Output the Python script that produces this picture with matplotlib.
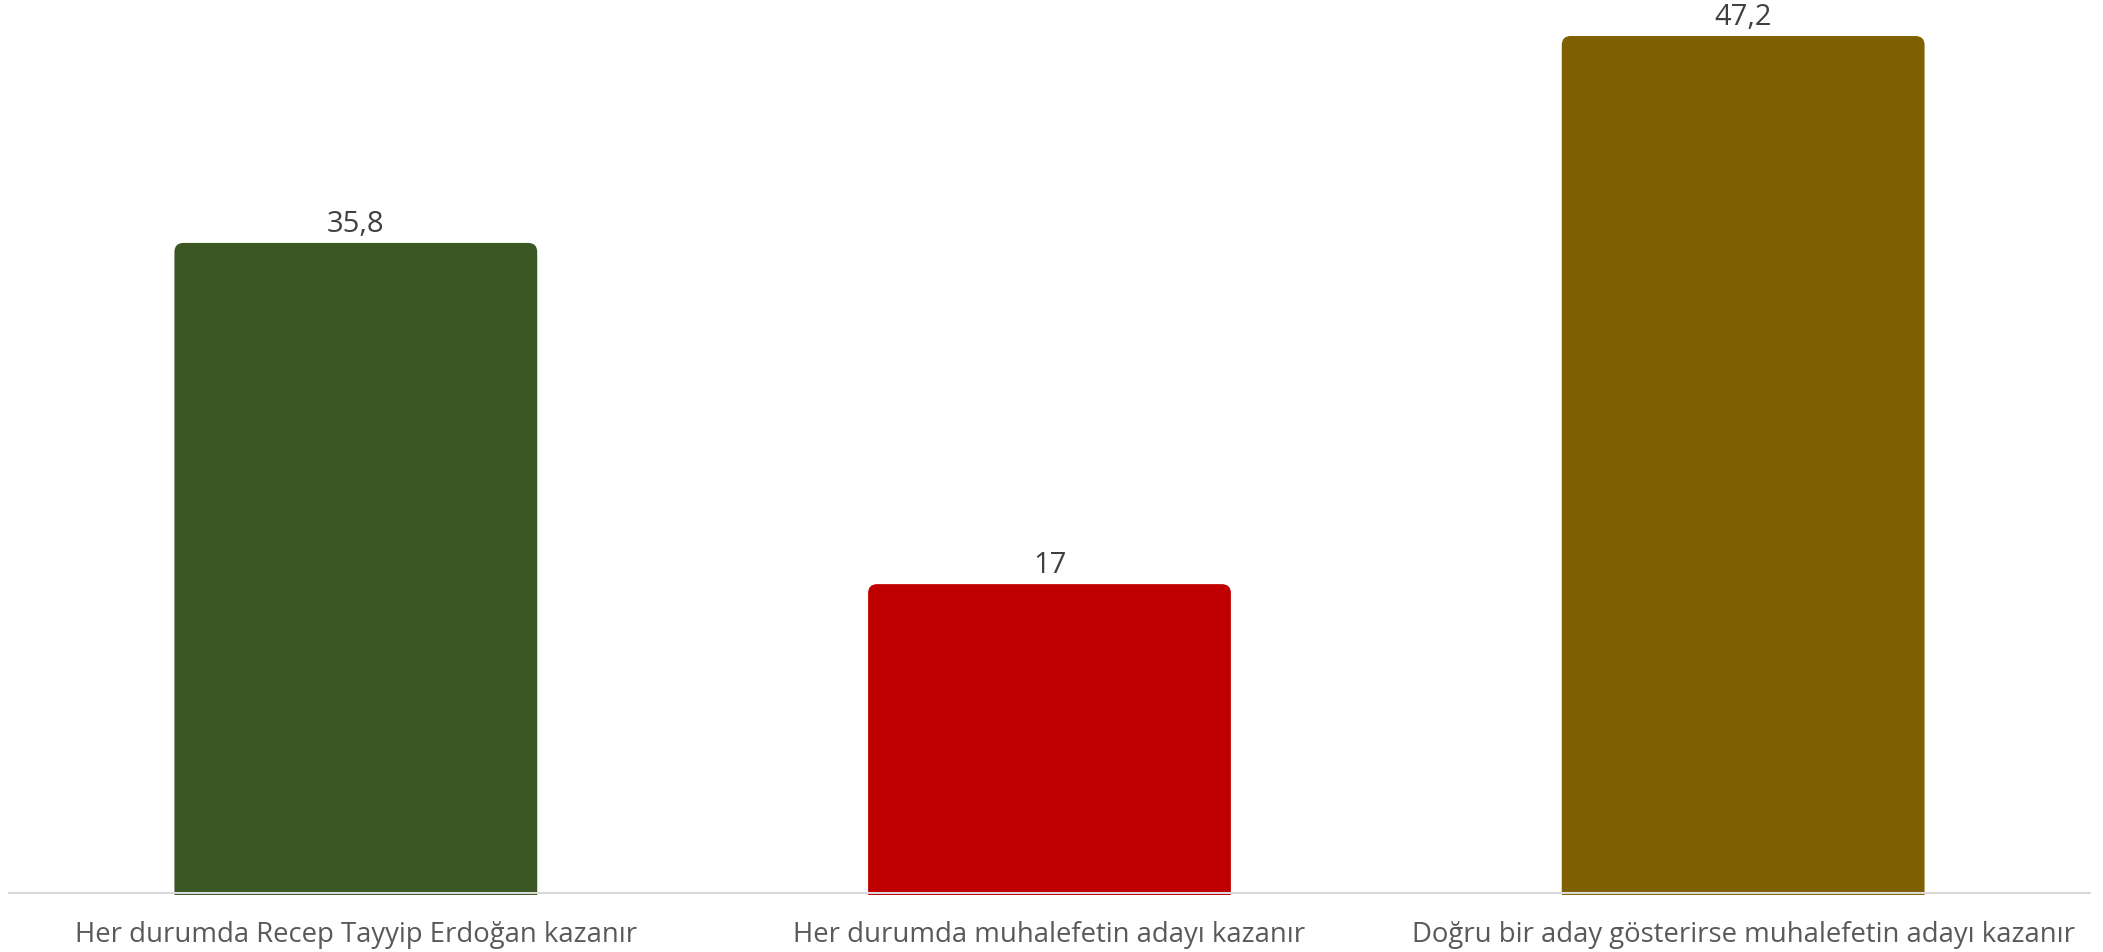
import matplotlib
matplotlib.use('Agg')
import matplotlib.pyplot as plt
from matplotlib.patches import FancyBboxPatch

categories = ['Her durumda Recep Tayyip Erdoğan kazanır',
              'Her durumda muhalefetin adayı kazanır',
              'Doğru bir aday gösterirse muhalefetin adayı kazanır']
values = [35.8, 17, 47.2]
value_labels = ['35,8', '17', '47,2']
colors = ['#3A5724', '#C00000', '#7F6000']

plt.rcParams['font.family'] = ['Open Sans', 'DejaVu Sans']

fig = plt.figure(figsize=(21.03, 9.53), dpi=100)
ax = fig.add_axes([9 / 2103, 57.5 / 953, 2081 / 2103, 895.5 / 953])

# set spine position first, it resets tick settings
for s in ['top', 'left', 'right']:
    ax.spines[s].set_visible(False)
ax.spines['bottom'].set_position(('data', 0))
ax.spines['bottom'].set_color('#D9D9D9')
ax.spines['bottom'].set_linewidth(1.5)
ax.spines['bottom'].set_zorder(3)

x = list(range(len(categories)))
bars = ax.bar(x, values, width=0.523, color=colors)
ax.set_xlim(-0.5, 2.5)
ax.set_ylim(-0.1, 49.24)

# rounded top corners: swap plain bars for rounded boxes
px_x = 2081 / 3.0      # pixels per x unit
px_y = 895.5 / 49.34   # pixels per y unit
r = 9 / px_x
for b in bars:
    b.set_visible(False)
    xb, w, h = b.get_x(), b.get_width(), b.get_height()
    p = FancyBboxPatch((xb, -2), w, h + 2,
                       boxstyle='round,pad=0,rounding_size=%f' % r,
                       mutation_aspect=px_x / px_y,
                       facecolor=b.get_facecolor(), edgecolor='none', zorder=2)
    ax.add_patch(p)

for xi, v, lab in zip(x, values, value_labels):
    ax.annotate(lab, (xi, v), xytext=(0, 8.5), textcoords='offset points',
                ha='center', va='baseline', fontsize=21, color='#404040')

ax.set_xticks(x)
ax.set_xticklabels(categories, fontsize=19.8, color='#595959')
ax.tick_params(axis='x', length=0, pad=20)
ax.set_yticks([])

plt.savefig('out.png', dpi=100)
